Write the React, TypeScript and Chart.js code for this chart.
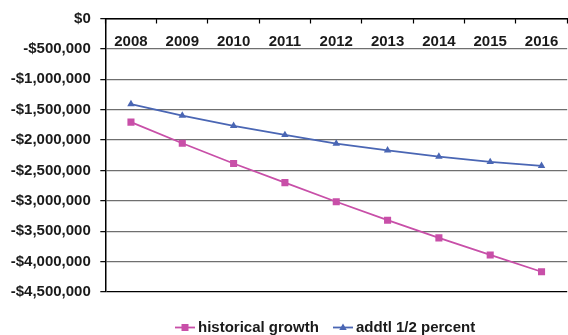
import React, { useEffect, useRef } from "react";
import { Chart, registerables } from "chart.js";

Chart.register(...registerables);

// Fiscal years on the category axis
const years = ["2008", "2009", "2010", "2011", "2012", "2013", "2014", "2015", "2016"];

// Projected balance under each scenario (dollars)
const historicalGrowth = [-1705000, -2052000, -2386000, -2700000, -3015000, -3318000, -3610000, -3890000, -4167000];
const addtlHalfPercent = [-1407000, -1597000, -1765000, -1916000, -2057000, -2170000, -2273000, -2360000, -2425000];

const seriesLabels = ["historical growth", "addtl 1/2 percent"];

// Value axis range
const yMin = -4500000;
const yMax = 0;
const yStep = 500000;

const PINK = "#C84FA8";
const BLUE = "#4A66B4";
const FONT = "'Liberation Sans', Arial, sans-serif";
const FONT_SIZE = 15;

const formatDollars = (v: number) => {
  const abs = Math.abs(v).toLocaleString("en-US");
  return (v < 0 ? "-$" : "$") + abs;
};

// Legend drawn as line + marker samples, like the series themselves
const lineLegend = {
  id: "lineLegend",
  afterDraw(chart: any) {
    const ctx: CanvasRenderingContext2D = chart.ctx;
    const y = 327.5;
    const starts = [175, 333];
    ctx.save();
    ctx.font = `bold ${FONT_SIZE}px ${FONT}`;
    ctx.textBaseline = "middle";
    ctx.textAlign = "left";
    chart.data.datasets.forEach((ds: any, i: number) => {
      const x0 = starts[i];
      ctx.strokeStyle = ds.borderColor;
      ctx.lineWidth = 1.8;
      ctx.beginPath();
      ctx.moveTo(x0, y);
      ctx.lineTo(x0 + 20, y);
      ctx.stroke();
      const cx = x0 + 10;
      ctx.fillStyle = ds.pointBackgroundColor;
      ctx.beginPath();
      if (ds.pointStyle === "rect") {
        ctx.rect(cx - 3.5, y - 3.5, 7, 7);
      } else {
        ctx.moveTo(cx, y - 4);
        ctx.lineTo(cx + 3.7, y + 2.5);
        ctx.lineTo(cx - 3.7, y + 2.5);
        ctx.closePath();
      }
      ctx.fill();
      ctx.fillStyle = "#1a1a1a";
      ctx.fillText(ds.label, x0 + 23, y + 0.5);
    });
    ctx.restore();
  },
};

export default function App() {
  const canvasRef = useRef<HTMLCanvasElement | null>(null);

  useEffect(() => {
    const canvas = canvasRef.current;
    if (!canvas) return;
    const chart = new Chart(canvas, {
      type: "line",
      data: {
        labels: years,
        datasets: [
          {
            label: seriesLabels[0],
            data: historicalGrowth,
            borderColor: PINK,
            backgroundColor: PINK,
            pointBackgroundColor: PINK,
            pointBorderColor: PINK,
            borderWidth: 1.8,
            pointStyle: "rect",
            pointRadius: 5,
            pointBorderWidth: 0,
            tension: 0,
          },
          {
            label: seriesLabels[1],
            data: addtlHalfPercent,
            borderColor: BLUE,
            backgroundColor: BLUE,
            pointBackgroundColor: BLUE,
            pointBorderColor: BLUE,
            borderWidth: 1.8,
            pointStyle: "triangle",
            pointRadius: 4.3,
            pointBorderWidth: 0,
            tension: 0,
          },
        ],
      },
      options: {
        animation: false,
        responsive: false,
        devicePixelRatio: 1,
        layout: { padding: { top: 15, right: 0.5, bottom: 43, left: 0 } },
        plugins: {
          legend: { display: false },
          tooltip: { enabled: false },
        },
        scales: {
          x: {
            type: "category",
            position: "top",
            offset: true,
            afterFit: (scale: any) => {
              scale.height = 0;
            },
            border: { display: true, color: "#000", width: 1.5 },
            grid: {
              display: true,
              offset: true,
              drawOnChartArea: false,
              drawTicks: true,
              tickLength: -5,
              tickColor: "#000",
              tickWidth: 1.2,
            },
            ticks: {
              mirror: true,
              padding: 14.5,
              maxRotation: 0,
              color: "#1a1a1a",
              font: { family: FONT, size: FONT_SIZE, weight: "bold" },
            },
          },
          y: {
            min: yMin,
            max: yMax,
            afterFit: (scale: any) => {
              scale.width = 105.3;
            },
            border: { display: true, color: "#000", width: 1.5 },
            grid: {
              color: (c: any) => (c.tick && c.tick.value === yMin ? "#000" : "#6f6f6f"),
              lineWidth: 1.3,
              tickLength: 5,
              tickColor: "#000",
              tickWidth: 1.2,
            },
            ticks: {
              stepSize: yStep,
              padding: 9.5,
              color: "#1a1a1a",
              font: { family: FONT, size: FONT_SIZE, weight: "bold" },
              callback: (v: any) => formatDollars(Number(v)),
            },
          },
        },
      },
      plugins: [lineLegend],
    });
    return () => chart.destroy();
  }, []);

  return (
    <div
      style={{
        position: "fixed",
        left: 0,
        top: 0,
        width: 568,
        height: 335,
        overflow: "hidden",
        background: "#fff",
      }}
    >
      <canvas ref={canvasRef} width={573} height={335} style={{ display: "block" }} />
    </div>
  );
}
